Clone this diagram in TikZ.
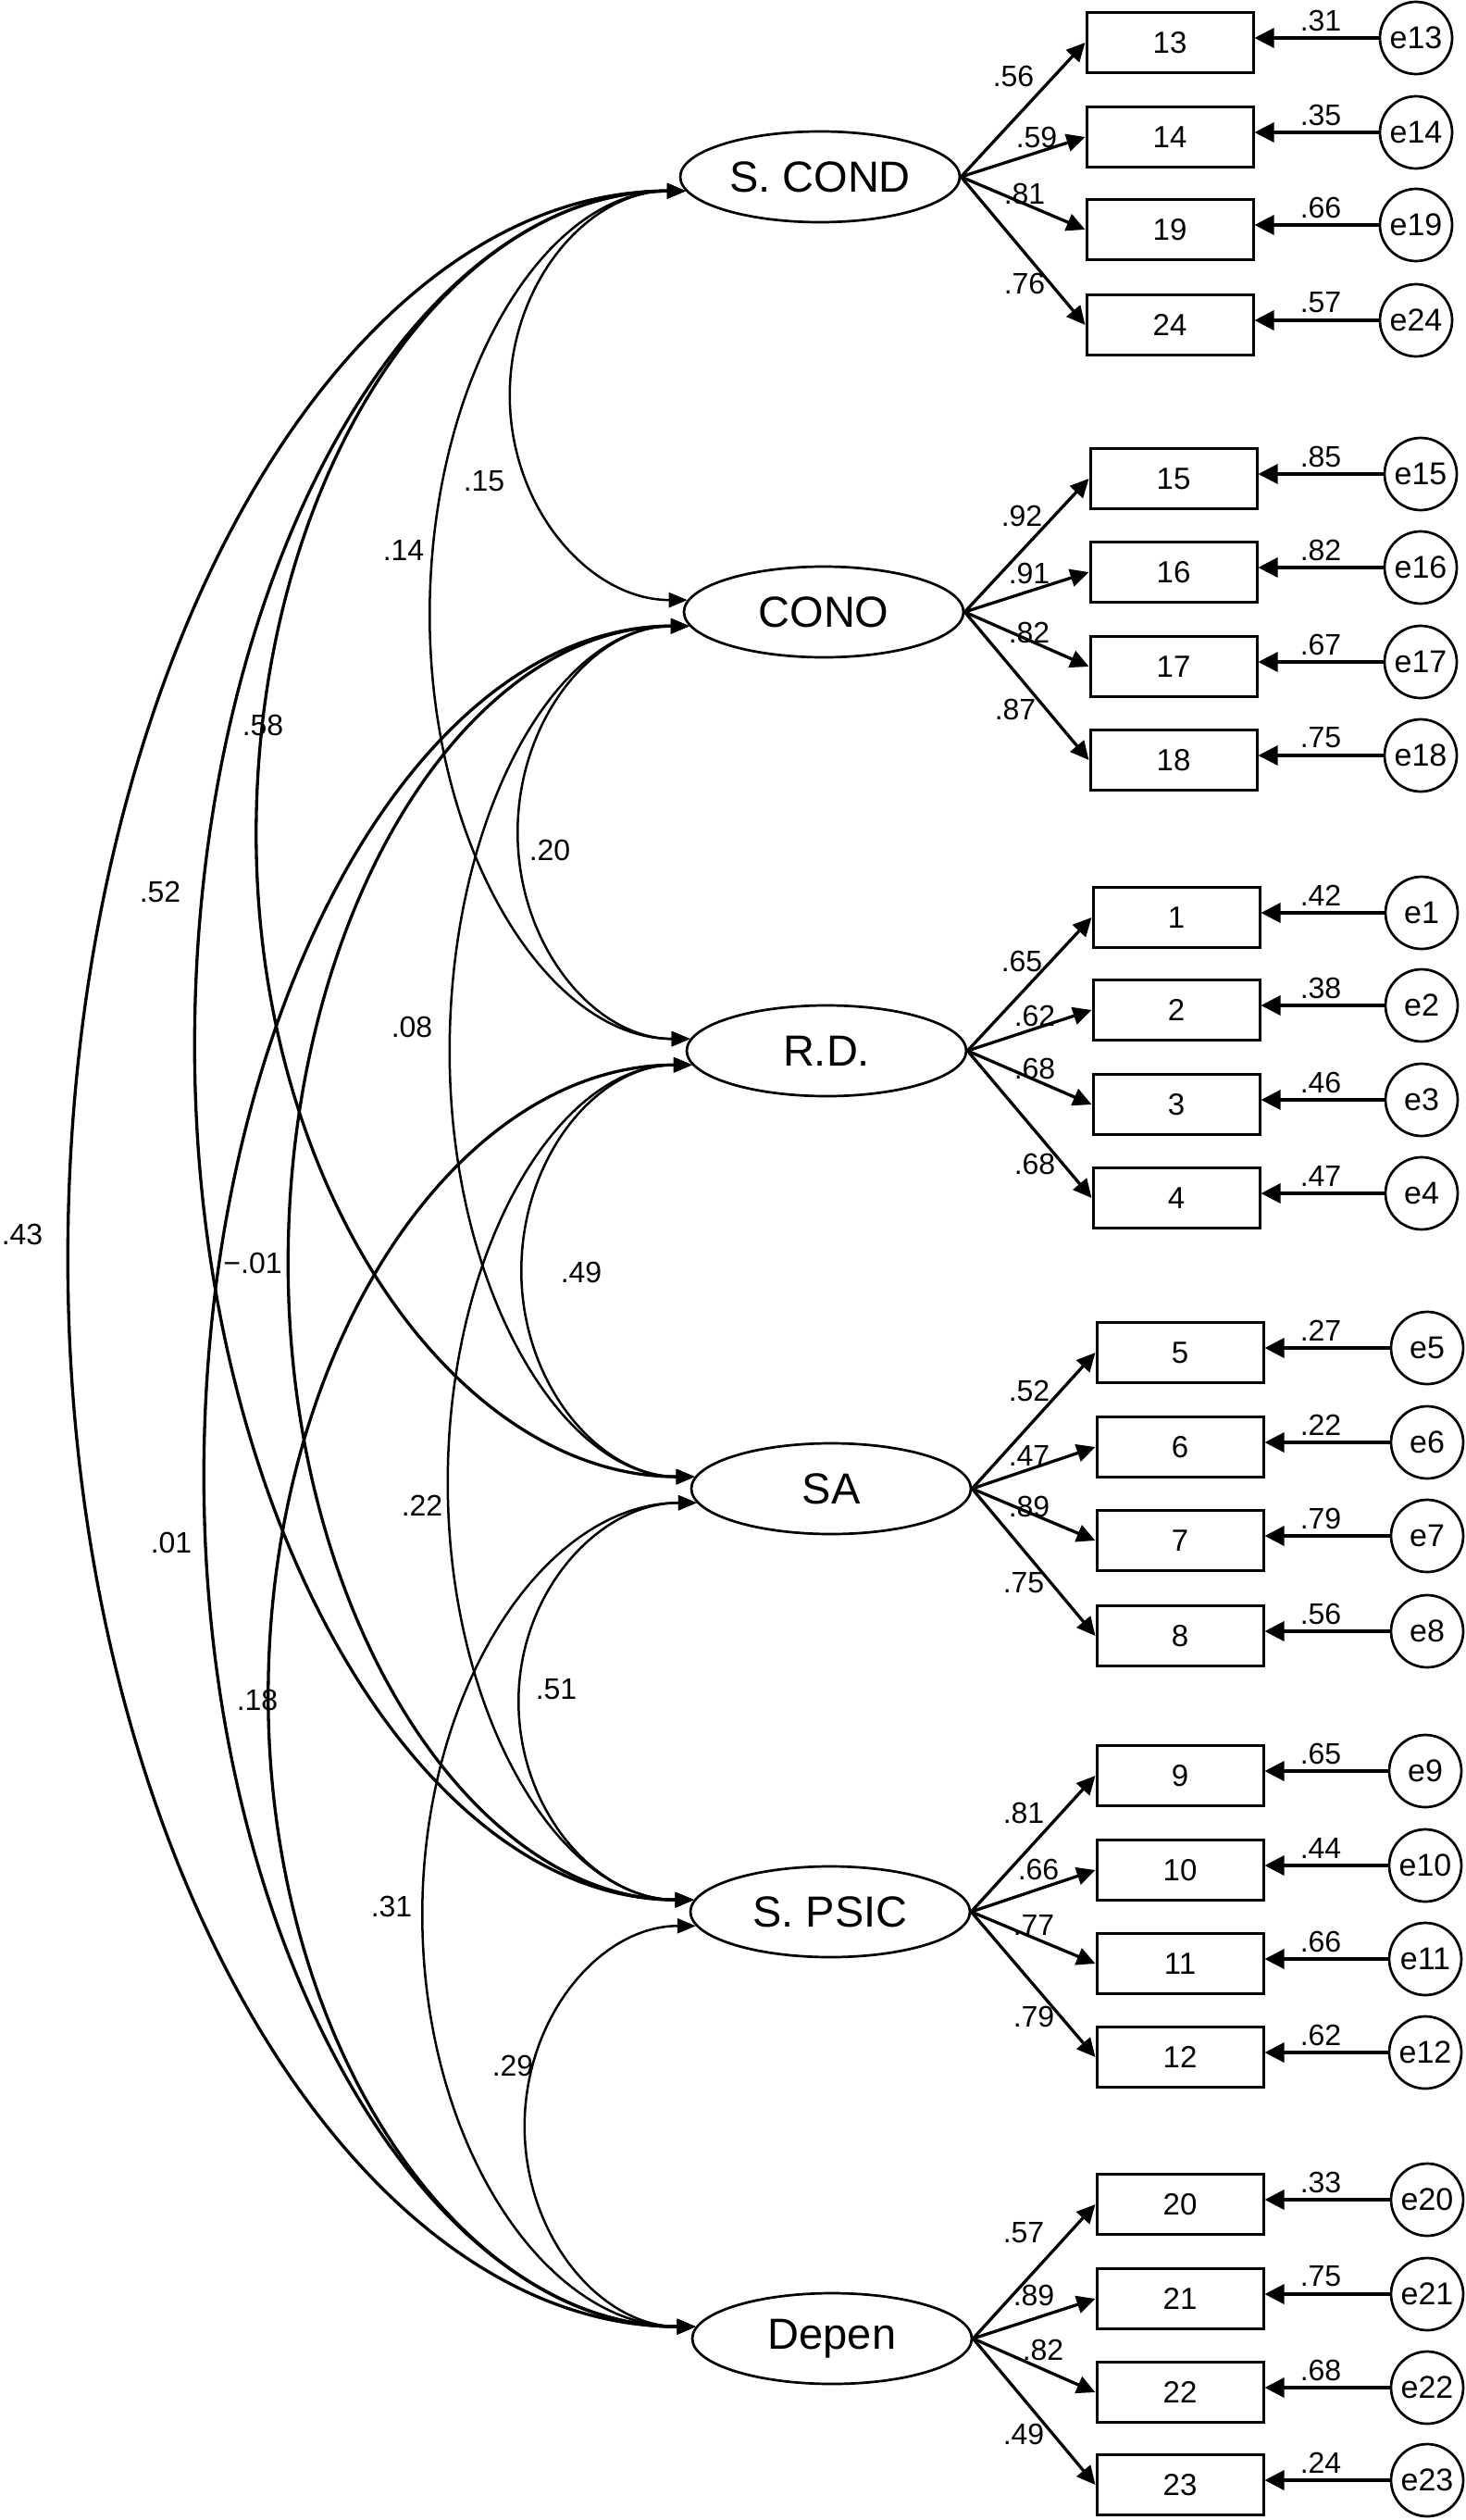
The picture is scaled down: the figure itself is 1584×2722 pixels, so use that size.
\documentclass[tikz,border=0pt]{standalone}
\usepackage{fontspec}
\setmainfont{Liberation Sans}
\usetikzlibrary{arrows.meta,shapes.geometric,calc}
\newcommand\indic[5]{% #1 id, #2 box x, #3 box y, #4 error x, #5 error label
  \node[obs] (b#1) at (#2,#3) {#1};
  \node[err] (e#1) at (#4,#3-5) {e#1};
  \draw[erra] (e#1.west) -- (b#1.east |- e#1.west);
  \node[lbl] (le#1) at (1427,#3-24) {#5};
}
\newcommand\loadarrow[5]{% #1 latent, #2 id, #3 label x, #4 label y, #5 label
  \draw[load] (#1.east) -- (b#2.west);
  \node[lbl] (l#2) at (#3,#4) {#5};
}
\newcommand\covarc[5]{% #1 from, #2 to, #3 sagitta, #4 half height, #5 style
  \draw[#5] (#1.186) .. controls +(-0.5523*#3,0) and +(0,-0.5523*#4) ..
    ($(#1.186)!0.5!(#2.175)+(-#3,0)$) .. controls +(0,0.5523*#4) and +(-0.5523*#3,0) .. (#2.175);
}
\begin{document}
\begin{tikzpicture}[x=1pt,y=-1pt,
  lat/.style={draw, ellipse, line width=2.7pt, minimum width=302pt, minimum height=98pt, inner sep=0pt, font=\fontsize{47}{50}\selectfont},
  obs/.style={draw, rectangle, line width=3pt, minimum width=180pt, minimum height=65pt, inner sep=0pt, font=\fontsize{33}{36}\selectfont},
  err/.style={draw, circle, line width=2.7pt, minimum size=78pt, inner sep=0pt, font=\fontsize{34}{37}\selectfont},
  lbl/.style={font=\fontsize{32}{35}\selectfont, inner sep=0pt},
  load/.style={line width=3.3pt, -{Triangle[length=20pt,width=19pt]}},
  erra/.style={line width=3.3pt, -{Triangle[length=21pt,width=21pt]}},
  covthick/.style={line width=3.3pt, {Triangle[length=20pt,width=16pt]}-{Triangle[length=20pt,width=16pt]}},
  covthin/.style={line width=2.5pt, {Triangle[length=20pt,width=16pt]}-{Triangle[length=20pt,width=16pt]}}]
\useasboundingbox (0,0) rectangle (1584,2722);

% latent variables
\node[lat] (SC) at (886,191) {S. COND};
\node[lat] (CO) at (890,661) {CONO};
\node[lat] (RD) at (893,1135) {R.D.};
\node[lat] (SA) at (898,1608) {SA};
\node[lat] (SP) at (897,2065) {S. PSIC};
\node[lat] (DE) at (899,2526) {Depen};

% group 1
\indic{13}{1264}{46}{1530}{.31}
\indic{14}{1264}{148}{1530}{.35}
\indic{19}{1264}{248}{1530}{.66}
\indic{24}{1264}{351}{1530}{.57}
\loadarrow{SC}{13}{1095}{82}{.56}
\loadarrow{SC}{14}{1120}{148}{.59}
\loadarrow{SC}{19}{1107}{209}{.81}
\loadarrow{SC}{24}{1107}{306}{.76}

% group 2
\indic{15}{1268}{517}{1535}{.85}
\indic{16}{1268}{618}{1535}{.82}
\indic{17}{1268}{720}{1535}{.67}
\indic{18}{1268}{821}{1535}{.75}
\loadarrow{CO}{15}{1104}{557}{.92}
\loadarrow{CO}{16}{1112}{619}{.91}
\loadarrow{CO}{17}{1112}{683}{.82}
\loadarrow{CO}{18}{1097}{766}{.87}

% group 3
\indic{1}{1271}{991}{1536}{.42}
\indic{2}{1271}{1091}{1536}{.38}
\indic{3}{1271}{1193}{1536}{.46}
\indic{4}{1271}{1294}{1536}{.47}
\loadarrow{RD}{1}{1104}{1038}{.65}
\loadarrow{RD}{2}{1118}{1097}{.62}
\loadarrow{RD}{3}{1118}{1154}{.68}
\loadarrow{RD}{4}{1118}{1257}{.68}

% group 4
\indic{5}{1275}{1461}{1542}{.27}
\indic{6}{1275}{1563}{1542}{.22}
\indic{7}{1275}{1664}{1542}{.79}
\indic{8}{1275}{1767}{1542}{.56}
\loadarrow{SA}{5}{1112}{1502}{.52}
\loadarrow{SA}{6}{1112}{1572}{.47}
\loadarrow{SA}{7}{1112}{1627}{.89}
\loadarrow{SA}{8}{1106}{1710}{.75}

% group 5
\indic{9}{1275}{1918}{1540}{.65}
\indic{10}{1275}{2020}{1540}{.44}
\indic{11}{1275}{2121}{1540}{.66}
\indic{12}{1275}{2222}{1540}{.62}
\loadarrow{SP}{9}{1106}{1958}{.81}
\loadarrow{SP}{10}{1122}{2019}{.66}
\loadarrow{SP}{11}{1117}{2079}{.77}
\loadarrow{SP}{12}{1117}{2178}{.79}

% group 6
\indic{20}{1275}{2381}{1542}{.33}
\indic{21}{1275}{2483}{1542}{.75}
\indic{22}{1275}{2584}{1542}{.68}
\indic{23}{1275}{2684}{1542}{.24}
\loadarrow{DE}{20}{1106}{2412}{.57}
\loadarrow{DE}{21}{1117}{2479}{.89}
\loadarrow{DE}{22}{1127}{2538}{.82}
\loadarrow{DE}{23}{1106}{2629}{.49}

% covariances
\covarc{SC}{CO}{191}{220.6}{covthin}
\covarc{SC}{RD}{279}{457.6}{covthin}
\covarc{SC}{SA}{469}{694}{covthick}
\covarc{SC}{SP}{535}{922.6}{covthick}
\covarc{SC}{DE}{673}{1153}{covthick}
\covarc{CO}{RD}{186}{223}{covthin}
\covarc{CO}{SA}{262}{459.6}{covthin}
\covarc{CO}{SP}{436}{688}{covthick}
\covarc{CO}{DE}{528}{918.6}{covthick}
\covarc{RD}{SA}{186}{222.6}{covthin}
\covarc{RD}{SP}{265}{451}{covthin}
\covarc{RD}{DE}{460}{681.6}{covthick}
\covarc{SA}{SP}{191}{214.6}{covthin}
\covarc{SA}{DE}{296}{445}{covthin}
\covarc{SP}{DE}{185}{216.6}{covthin}

% covariance labels
\node[lbl] (c1) at (523,520) {.15};
\node[lbl] (c2) at (436,594) {.14};
\node[lbl] (c3) at (284,783) {.58};
\node[lbl] (c4) at (173,963) {.52};
\node[lbl] (c5) at (24,1333) {.43};
\node[lbl] (c6) at (594,918) {.20};
\node[lbl] (c7) at (445,1109) {.08};
\node[lbl] (c8) at (273,1364) {−.01};
\node[lbl] (c9) at (185,1666) {.01};
\node[lbl] (c10) at (628,1374) {.49};
\node[lbl] (c11) at (456,1626) {.22};
\node[lbl] (c12) at (278,1836) {.18};
\node[lbl] (c13) at (601,1825) {.51};
\node[lbl] (c14) at (423,2059) {.31};
\node[lbl] (c15) at (554,2231) {.29};
\end{tikzpicture}
\end{document}
